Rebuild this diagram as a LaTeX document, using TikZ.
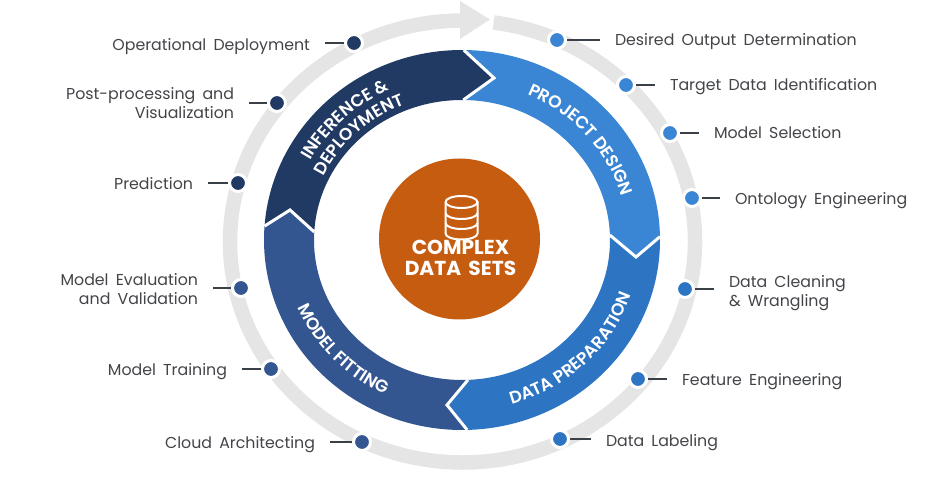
\documentclass[tikz,border=0pt]{standalone}
\usepackage{fontspec}
\setmainfont{Poppins}[WordSpace=1.7]
\newfontfamily\segfamily{Poppins SemiBold}
\usetikzlibrary{positioning,decorations.text}
\definecolor{ringgray}{RGB}{229,229,229}
\definecolor{navyseg}{RGB}{33,58,99}
\definecolor{modelseg}{RGB}{52,86,144}
\definecolor{prepseg}{RGB}{45,117,195}
\definecolor{designseg}{RGB}{59,134,212}
\definecolor{hubfill}{RGB}{197,92,16}
\definecolor{tagtext}{RGB}{66,68,72}
\definecolor{leaderline}{RGB}{58,64,72}
\tikzset{
  segment/.style={draw=none},
  seam/.style={draw=white, line width=3pt, line join=miter, line cap=square},
  stopdot/.style={circle, draw=white, line width=3pt, minimum size=17pt, inner sep=0pt},
  leader/.style={draw=leaderline, line width=2pt},
  tagbase/.style={inner ysep=0pt, inner xsep=0pt, outer xsep=15pt, outer ysep=0pt,
                  text=tagtext, font=\fontsize{15.8}{18.5}\selectfont},
  tagleft/.style={tagbase, align=right},
  tagright/.style={tagbase, align=left},
  ringtext/.style={decorate, decoration={text along path, text align=center, text={#1}}},
  hub/.style={circle, fill=hubfill, minimum size=161pt, inner sep=0pt},
  hubtext/.style={text=white, align=center, inner sep=0pt,
                  font=\fontsize{20.2}{21}\selectfont\bfseries}
}
\newcommand{\segfont}{\color{white}\segfamily\fontsize{17.2}{18}\selectfont}
\begin{document}
\begin{tikzpicture}[x=1pt, y=1pt]
\useasboundingbox (-462,-249) rectangle (479,240);
% outer ring
\draw[ringgray, line width=14.5pt] (0.5,-1.5) ++(82.3:232.5pt and 221pt)
  arc[start angle=82.3, end angle=-269.5, x radius=232.5pt, y radius=221pt];
\fill[ringgray] (-2,239) -- (28,220.5) -- (-2,201) -- cycle;
% segments
\fill[designseg, segment] (89:198 and 190) arc[start angle=89, end angle=1, x radius=198pt, y radius=190pt]
  -- (174,-17) -- (2:148 and 140) arc[start angle=2, end angle=89.5, x radius=148pt, y radius=140pt]
  -- (32,162) -- cycle;
\fill[prepseg, segment] (1:198 and 190) arc[start angle=1, end angle=-88.5, x radius=198pt, y radius=190pt]
  -- (-15,-165) -- (-87.7:148 and 140) arc[start angle=-87.7, end angle=2, x radius=148pt, y radius=140pt]
  -- (174,-17) -- cycle;
\fill[modelseg, segment] (-88.5:198 and 190) arc[start angle=-88.5, end angle=-184.2, x radius=198pt, y radius=190pt]
  -- (-172,30) -- (-183.3:148 and 140) arc[start angle=-183.3, end angle=-87.7, x radius=148pt, y radius=140pt]
  -- (-15,-165) -- cycle;
\fill[navyseg, segment] (175.8:198 and 190) arc[start angle=175.8, end angle=89, x radius=198pt, y radius=190pt]
  -- (32,162) -- (89.5:148 and 140) arc[start angle=89.5, end angle=176.7, x radius=148pt, y radius=140pt]
  -- (-172,30) -- cycle;
\draw[seam] (89.5:198 and 190) -- (32,162) -- (89.5:148 and 140);
\draw[seam] (1:198 and 190) -- (174,-17) -- (2:148 and 140);
\draw[seam] (-88.5:198 and 190) -- (-15,-165) -- (-87.7:148 and 140);
\draw[seam] (175.8:198 and 190) -- (-172,30) -- (176.7:148 and 140);
% segment titles
\path[ringtext={|\segfont|PROJECT DESIGN}] (81:166 and 158) arc[start angle=81, end angle=1, x radius=166pt, y radius=158pt];
\path[ringtext={|\segfont|DATA PREPARATION}] (-90:179 and 171) arc[start angle=-90, end angle=-2, x radius=179pt, y radius=171pt];
\path[ringtext={|\segfont|MODEL FITTING}] (181:179 and 171) arc[start angle=181, end angle=266, x radius=179pt, y radius=171pt];
\path[ringtext={|\segfont|INFERENCE {\&}}] (175:173 and 165) arc[start angle=175, end angle=92, x radius=173pt, y radius=165pt];
\path[ringtext={|\segfont|DEPLOYMENT}] (175:154 and 146) arc[start angle=175, end angle=92, x radius=154pt, y radius=146pt];
% hub
\node[hub] (core) at (-2.5,1) {};
\node[hubtext] (coretext) at (-1.5,-18) {COMPLEX\\DATA SETS};
\begin{scope}[white, line width=2pt, fill=none]
  \draw (-16.5,38) arc[start angle=180, end angle=-180, x radius=16pt, y radius=6pt];
  \draw (-16.5,38) -- (-16.5,6.5) arc[start angle=180, end angle=360, x radius=16pt, y radius=6pt] -- (15.5,38);
  \draw (-16.5,27) arc[start angle=180, end angle=360, x radius=16pt, y radius=6pt];
  \draw (-16.5,17) arc[start angle=180, end angle=360, x radius=16pt, y radius=6pt];
\end{scope}
% stops on the right
\foreach \n/\x/\y/\col/\gap/\dy/\txt in {
  1/95/200/designseg/33/2/{Desired Output Determination},
  2/164/155/designseg/19/2/{Target Data Identification},
  3/208/107/designseg/19/0/{Model Selection},
  4/230/42/designseg/18/3/{Ontology Engineering},
  5/223/-49/prepseg/19/4/{Data Cleaning\\\& Wrangling},
  6/176/-139/prepseg/19/3/{Feature Engineering},
  7/98/-199/prepseg/21/4/{Data Labeling}}{
  \node[stopdot, fill=\col] (stop\n) at (\x,\y) {};
  \node[tagright, right=\gap pt of stop\n, yshift=-\dy pt] (tag\n) {\txt};
  \draw[leader] (stop\n) -- (stop\n -| tag\n.west);
}
% stops on the left
\foreach \n/\x/\y/\col/\gap/\dy/\txt in {
  8/-100/-202/modelseg/22/3/{Cloud Architecting},
  9/-191/-129/modelseg/19/3/{Model Training},
  10/-221/-48/modelseg/18/1/{Model Evaluation\\and Validation},
  11/-224/57/navyseg/20/1/{Prediction},
  12/-185/137/navyseg/18/0/{Post-processing and\\Visualization},
  13/-108/197/navyseg/19/4/{Operational Deployment}}{
  \node[stopdot, fill=\col] (stop\n) at (\x,\y) {};
  \node[tagleft, left=\gap pt of stop\n, yshift=-\dy pt] (tag\n) {\txt};
  \draw[leader] (stop\n) -- (stop\n -| tag\n.east);
}
\end{tikzpicture}
\end{document}
